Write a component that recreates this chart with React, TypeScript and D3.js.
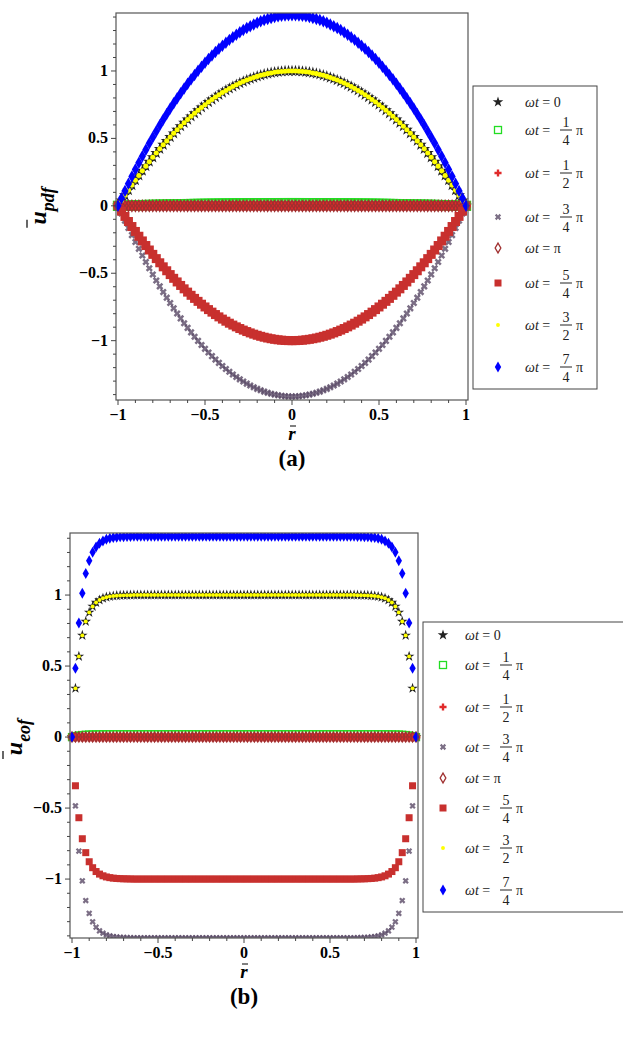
import * as d3 from "d3";

// half profiles at r = 0, 0.02, ... 1 (mirrored for r < 0)
const profileA = [1, 0.9996, 0.9984, 0.9964, 0.9936, 0.99, 0.9856, 0.9804, 0.9744, 0.9676, 0.96, 0.9516, 0.9424, 0.9324, 0.9216, 0.91, 0.8976, 0.8844, 0.8704, 0.8556, 0.84, 0.8236, 0.8064, 0.7884, 0.7696, 0.75, 0.7296, 0.7084, 0.6864, 0.6636, 0.64, 0.6156, 0.5904, 0.5644, 0.5376, 0.51, 0.4816, 0.4524, 0.4224, 0.3916, 0.36, 0.3276, 0.2944, 0.2604, 0.2256, 0.19, 0.1536, 0.1164, 0.0784, 0.0396, 0];
const profileB = [1, 1, 1, 1, 1, 1, 1, 1, 1, 1, 1, 1, 1, 1, 1, 1, 1, 1, 1, 1, 1, 1, 1, 1, 1, 1, 1, 1, 1, 1, 1, 1, 1, 0.9992, 0.9988, 0.998, 0.9972, 0.9957, 0.9935, 0.99, 0.985, 0.977, 0.965, 0.947, 0.92, 0.878, 0.814, 0.716, 0.568, 0.343, 0];
const rStep = 0.02;

const seriesNames = ["0", "1/4", "1/2", "3/4", "π", "5/4", "3/2", "7/4"];
const amplitudes = [1, 0.02, 0, -1.414, 0, -1, 1, 1.414];
const colors = ["#222222", "#22dd22", "#e02a2a", "#5a4a66", "#a03030", "#c8302e", "#ffff00", "#0000ff"];
const yTicks = [-1, -0.5, 0, 0.5, 1];
const xTicks = [-1, -0.5, 0, 0.5, 1];
const serif = "'Liberation Serif', 'Times New Roman', serif";

function grid(profile: number[]) {
  const n = profile.length - 1;
  const pts: { r: number; v: number }[] = [];
  for (let i = -n; i <= n; i++) pts.push({ r: i * rStep, v: profile[Math.abs(i)] });
  return pts;
}

function Marker({ i, x, y, s, legend }: { i: number; x: number; y: number; s: number; legend?: boolean }) {
  const c = colors[i];
  const t = `translate(${x},${y})`;
  if (i === 0) return <path transform={t} d={d3.symbol(d3.symbolStar, s * 5)()!} fill={c} />;
  if (i === 1) return <rect x={x - s / 2} y={y - s / 2} width={s} height={s} fill="none" stroke={c} strokeWidth={1.3} />;
  if (i === 2) return <path transform={t} d={d3.symbol(d3.symbolCross, s * (legend ? 4 : 6))()!} fill={c} />;
  if (i === 3) return <path transform={`${t} rotate(45)`} d={d3.symbol(d3.symbolCross, s * 3.5)()!} fill={c} opacity={0.8} />;
  if (i === 4) return <path transform={t} d={d3.symbol(d3.symbolDiamond, s * 4)()!} fill="none" stroke={c} strokeWidth={1.3} />;
  if (i === 5) return <rect x={x - s / 2} y={y - s / 2} width={s} height={s} fill={c} />;
  if (i === 6) return <circle cx={x} cy={y} r={s * 0.28} fill={c} />;
  return <path transform={t} d={d3.symbol(d3.symbolDiamond, s * 5)()!} fill={c} />;
}

function LegendLabel({ name, x, y }: { name: string; x: number; y: number }) {
  const base = { fontFamily: serif, fontSize: 14, fill: "#222" };
  if (!name.includes("/")) {
    return <text x={x} y={y + 5} {...base}><tspan fontStyle="italic">ωt</tspan> = {name}</text>;
  }
  const [a, b] = name.split("/");
  return (
    <g>
      <text x={x} y={y + 5} {...base}><tspan fontStyle="italic">ωt</tspan> =</text>
      <text x={x + 41} y={y - 3} textAnchor="middle" {...base}>{a}</text>
      <line x1={x + 35} x2={x + 47} y1={y} y2={y} stroke="#222" />
      <text x={x + 41} y={y + 15} textAnchor="middle" {...base}>{b}</text>
      <text x={x + 51} y={y + 5} {...base}>π</text>
    </g>
  );
}

function Panel(p: {
  profile: number[]; left: number; right: number; top: number; bottom: number; ymin: number; ymax: number;
  sub: string; tag: string; ylabX: number; legend: { x: number; y: number; w: number; h: number; sx: number; tx: number; ys: number[] };
  ms: number;
}) {
  const x = d3.scaleLinear().domain([-1, 1]).range([p.left + 2, p.right - 2]);
  const y = d3.scaleLinear().domain([p.ymin, p.ymax]).range([p.bottom, p.top]);
  const pts = grid(p.profile);
  const minorY = d3.range(-14, 15).map((d) => d / 10);
  const minorX = d3.range(-10, 11).map((d) => d / 10);
  const cx = (p.left + p.right) / 2;
  const id = p.tag.replace(/[()]/g, "");
  return (
    <g>
      <clipPath id={`clip-${id}`}><rect x={p.left - 6} y={p.top} width={p.right - p.left + 12} height={p.bottom - p.top} /></clipPath>
      <g clipPath={`url(#clip-${id})`}>
        {amplitudes.map((a, i) => (
          <g key={i}>{pts.map((q, j) => <Marker key={j} i={i} x={x(q.r)} y={y(a * q.v)} s={p.ms} />)}</g>
        ))}
      </g>
      <rect x={p.left} y={p.top} width={p.right - p.left} height={p.bottom - p.top} fill="none" stroke="#555" strokeWidth={1.2} />
      {minorY.map((t) => <line key={t} x1={p.left} x2={p.left - (Math.abs((t * 10) % 5) < 0.01 ? 5 : 3)} y1={y(t)} y2={y(t)} stroke="#444" />)}
      {minorX.map((t) => <line key={t} x1={x(t)} x2={x(t)} y1={p.bottom} y2={p.bottom + (Math.abs((t * 10) % 5) < 0.01 ? 5 : 3)} stroke="#444" />)}
      {yTicks.map((t) => (
        <text key={t} x={p.left - 8} y={y(t) + 5} textAnchor="end" fontFamily={serif} fontWeight="bold" fontSize={16}>{t < 0 ? `−${-t}` : t}</text>
      ))}
      {xTicks.map((t) => (
        <text key={t} x={x(t)} y={p.bottom + 20} textAnchor="middle" fontFamily={serif} fontWeight="bold" fontSize={16}>{t < 0 ? `−${-t}` : t}</text>
      ))}
      <text x={cx} y={p.bottom + 40} textAnchor="middle" fontFamily={serif} fontWeight="bold" fontStyle="italic" fontSize={19}>r</text>
      <line x1={cx - 2} x2={cx + 4} y1={p.bottom + 26} y2={p.bottom + 26} stroke="#000" />
      <text x={cx} y={p.bottom + 66} textAnchor="middle" fontFamily={serif} fontWeight="bold" fontSize={23}>{p.tag}</text>
      <g transform={`translate(${p.ylabX},${y(0)}) rotate(-90)`}>
        <text textAnchor="middle" fontFamily={serif} fontWeight="bold" fontStyle="italic" fontSize={24}>
          u<tspan dy={8} fontSize={18}>{p.sub}</tspan>
        </text>
        <line x1={-22} x2={-14} y1={-19} y2={-19} stroke="#000" strokeWidth={1.2} />
      </g>
      <rect x={p.legend.x} y={p.legend.y} width={p.legend.w} height={p.legend.h} fill="#fff" stroke="#444" />
      {seriesNames.map((n, i) => (
        <g key={n}>
          <Marker i={i} x={p.legend.sx} y={p.legend.ys[i]} s={7} legend />
          <LegendLabel name={n} x={p.legend.tx} y={p.legend.ys[i]} />
        </g>
      ))}
    </g>
  );
}

export default function App() {
  return (
    <svg width={623} height={1046} style={{ position: "absolute", left: 0, top: 0, background: "#fff" }}>
      <Panel profile={profileA} left={116} right={468} top={13} bottom={400} ymin={-1.44} ymax={1.43} sub="pdf" tag="(a)" ylabX={46}
        ms={9} legend={{ x: 473, y: 86, w: 124, h: 303, sx: 498, tx: 525, ys: [102, 130, 173, 217, 248, 283, 325, 367] }} />
      <Panel profile={profileB} left={70} right={418} top={533} bottom={938} ymin={-1.415} ymax={1.437} sub="eof" tag="(b)" ylabX={22}
        ms={7} legend={{ x: 423, y: 622, w: 210, h: 290, sx: 443, tx: 465, ys: [635, 665, 707, 747, 778, 808, 848, 890] }} />
    </svg>
  );
}
